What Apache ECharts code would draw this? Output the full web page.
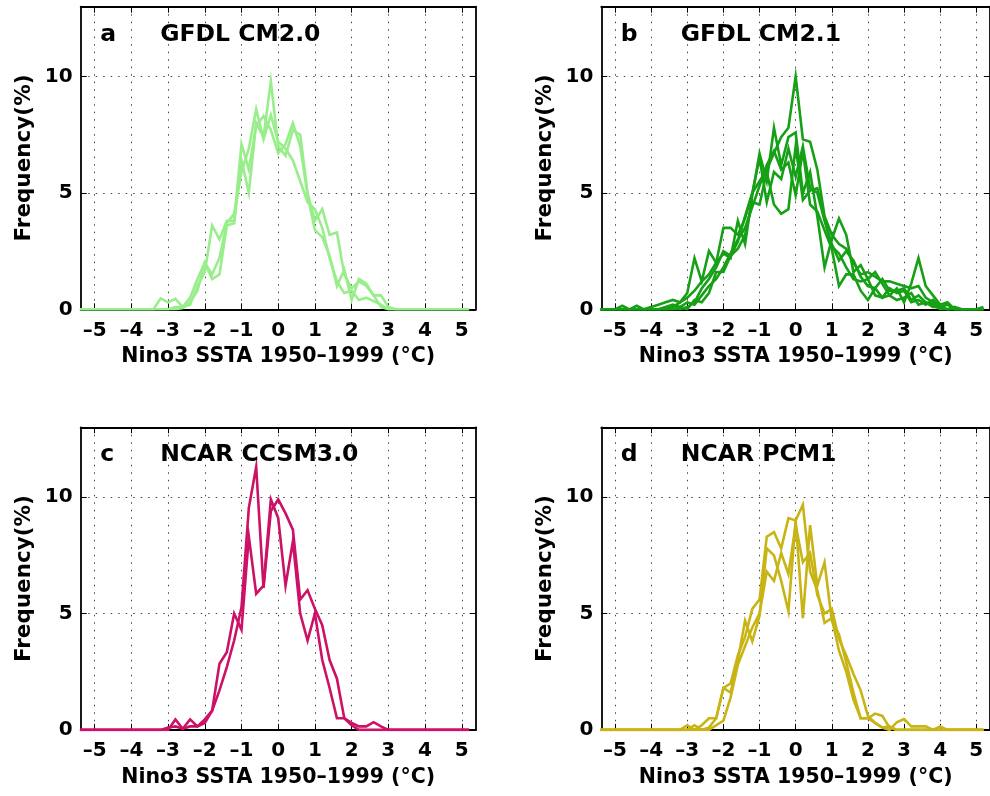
<!DOCTYPE html>
<html><head><meta charset="utf-8">
<script src="https://cdn.jsdelivr.net/npm/echarts@6/dist/echarts.min.js"></script>
<style>html,body{margin:0;padding:0;background:#fff}#c{width:990px;height:796px}</style>
</head><body><div id="c"></div>
<script>
// ---- data ----
const bins = [-5.4,-5.2,-5.0,-4.8,-4.6,-4.4,-4.2,-4.0,-3.8,-3.6,
  -3.4,-3.2,-3.0,-2.8,-2.6,-2.4,-2.2,-2.0,-1.8,-1.6,
  -1.4,-1.2,-1.0,-0.8,-0.6,-0.4,-0.2,0.0,0.2,0.4,
  0.6,0.8,1.0,1.2,1.4,1.6,1.8,2.0,2.2,2.4,
  2.6,2.8,3.0,3.2,3.4,3.6,3.8,4.0,4.2,4.4,
  4.6,4.8,5.0,5.2];
const xTicks = [-5,-4,-3,-2,-1,0,1,2,3,4,5];
const yTicks = [0,5,10];
const panelLetters = ['a','b','c','d'];
const panelTitles = ['GFDL CM2.0','GFDL CM2.1','NCAR CCSM3.0','NCAR PCM1'];
const xAxisName = 'Nino3 SSTA 1950\u20131999 (\u00B0C)';
const yAxisName = 'Frequency(%)';

// GFDL CM2.0
const cm20_r1 = [0,0,0,0,0,0,0,0,0,0,
  0,0,0,0.1,0.1,0.5,1.3,2.0,1.3,1.5,
  3.6,3.7,6.4,5.0,8.0,7.4,9.8,7.0,6.6,7.7,
  7.5,5.0,3.8,4.3,3.2,3.3,1.5,0.9,1.2,1.0,
  0.6,0.6,0.1,0,0,0,0,0,0,0,
  0,0,0,0];
const cm20_r2 = [0,0,0,0,0,0,0,0,0,0,
  0,0.47,0.3,0.45,0.1,0.2,1.0,1.6,3.6,3.0,
  3.8,3.8,7.1,6.0,7.9,8.3,7.7,6.7,7.1,8.0,
  7.0,4.9,3.4,3.1,2.3,1.0,1.7,0.4,1.3,1.1,
  0.6,0.1,0,0,0,0,0,0,0,0,
  0,0,0,0];
const cm20_r3 = [0,0,0,0,0,0,0,0,0,0,
  0,0,0,0,0.05,0.3,0.8,2.0,1.5,2.2,
  3.7,4.1,5.9,6.9,8.6,7.3,8.35,7.2,6.9,6.4,
  5.5,4.6,4.3,3.5,2.2,1.2,0.7,0.8,0.4,0.5,
  0.35,0.2,0,0,0,0,0,0,0,0,
  0,0,0,0];
// GFDL CM2.1
const cm21_r1 = [0,0,0,0,0,0,0,0,0,0,
  0.1,0.3,0.5,0.8,1.2,1.5,2.0,3.5,3.5,3.2,
  3.9,5.0,5.5,6.0,6.7,7.4,7.8,10.0,7.3,7.2,
  6.0,4.0,3.2,2.8,2.6,2.0,1.5,1.6,1.4,1.2,
  1.2,1.1,1.0,0.9,1.0,0.5,0.3,0.1,0,0,
  0,0,0,0];
const cm21_r2 = [0,0,0,0.15,0,0.15,0,0.1,0.2,0.3,
  0.4,0.3,0.7,2.2,1.2,2.5,2.0,2.4,2.2,3.8,
  2.8,4.9,6.7,5.5,7.8,6.2,7.4,7.6,5.0,5.9,
  4.0,1.8,3.0,3.9,3.2,1.6,1.9,1.3,1.6,1.1,
  0.6,0.9,0.3,1.1,2.2,1.0,0.6,0.2,0.3,0,
  0,0,0,0];
const cm21_r3 = [0,0,0,0,0,0,0,0,0,0,
  0,0,0.1,0.3,0.9,1.3,1.8,2.5,2.3,2.9,
  4.0,5.0,6.5,4.6,5.9,5.6,6.9,5.7,7.0,5.2,
  5.0,3.8,2.8,2.1,2.5,2.1,1.4,1.0,0.9,1.3,
  0.8,0.8,0.9,0.4,0.6,0.3,0.2,0,0,0,
  0,0,0,0];
const cm21_r4 = [0,0,0,0,0,0,0,0,0,0.1,
  0.2,0.1,0.3,0.2,0.6,1.0,1.3,1.8,2.4,3.0,
  3.5,4.4,5.3,6.2,6.8,6.0,6.3,4.9,6.8,4.5,
  4.2,3.4,2.6,1.0,1.5,1.5,0.8,0.4,0.9,0.5,
  0.9,0.7,0.8,0.3,0.4,0.2,0.4,0.1,0.2,0,
  0,0,0,0];
const cm21_r5 = [0,0,0,0,0,0,0,0,0,0,
  0,0.1,0,0.4,0.3,0.7,1.6,1.6,2.3,2.6,
  3.2,4.6,4.5,5.9,4.5,4.1,4.3,7.0,4.7,5.1,
  5.2,3.9,2.7,2.4,1.8,1.3,1.2,1.3,0.6,0.5,
  0.6,0.4,0.5,0.7,0.2,0.3,0.1,0.1,0,0.1,
  0,0,0,0.1];
// NCAR CCSM3.0
const ccsm3_r1 = [0,0,0,0,0,0,0,0,0,0,
  0,0,0,0.45,0.05,0.45,0.15,0.3,0.83,1.7,
  2.7,3.84,5.27,9.54,11.3,6.1,9.4,9.9,9.3,8.6,
  5.6,6.0,5.2,4.5,3.0,2.2,0.5,0.3,0.15,0.15,
  0.33,0.15,0,0,0,0,0,0,0,0,
  0,0,0,0];
const ccsm3_r2 = [0,0,0,0,0,0,0,0,0,0,
  0,0,0.1,0.15,0.05,0.15,0.15,0.45,0.83,2.84,
  3.34,5.0,4.3,8.3,5.85,6.2,9.9,9.1,6.2,8.1,
  5.0,3.84,5.0,3.0,1.8,0.5,0.5,0.2,0,0,
  0,0,0,0,0,0,0,0,0,0,
  0,0,0,0];
// NCAR PCM1
const pcm1_r1 = [0,0,0,0,0,0,0,0,0,0,
  0,0,0.2,0,0.2,0.5,0.5,1.8,2.0,3.2,
  4.0,5.2,5.6,8.3,8.5,7.8,9.1,9.0,9.67,6.8,
  6.0,4.6,4.8,3.4,2.5,1.3,0.5,0.5,0.7,0.6,
  0.1,0,0,0,0,0,0,0,0,0,
  0,0,0,0];
const pcm1_r2 = [0,0,0,0,0,0,0,0,0,0,
  0,0,0,0.2,0,0.1,0.5,1.8,1.6,3.0,
  4.7,3.8,4.9,7.8,7.5,6.4,5.1,9.0,4.8,8.8,
  6.2,7.2,4.7,4.1,2.9,1.6,0.5,0.5,0.3,0.1,
  0,0.33,0.47,0.15,0.15,0.15,0,0.15,0,0,
  0,0,0,0];
const pcm1_r3 = [0,0,0,0,0,0,0,0,0,0,
  0,0,0,0,0,0,0.2,0.4,1.4,2.8,
  3.6,4.4,5.0,6.8,6.4,7.6,6.7,8.8,7.2,7.6,
  5.8,5.0,5.2,3.9,3.2,2.4,1.7,0.6,0.3,0.1,
  0.15,0,0,0,0,0,0,0,0,0,
  0,0,0,0];

const panelRuns = [
  [cm20_r1, cm20_r2, cm20_r3],
  [cm21_r1, cm21_r2, cm21_r3, cm21_r4, cm21_r5],
  [ccsm3_r1, ccsm3_r2],
  [pcm1_r1, pcm1_r2, pcm1_r3]
];

// ---- styling / layout ----
const panelColors = ['#98ee8a', '#16a016', '#cc1166', '#c8b414'];
const FONT = 'DejaVu Sans';
const gridPos = [
  {left: 80.7, top: 6.7}, {left: 601.3, top: 6.7},
  {left: 80.7, top: 427.3}, {left: 601.3, top: 427.3}
];
const GW = 395, GH = 302.6;
const fmt = v => String(v).replace('-', '\u2013');

const option = {
  animation: false,
  backgroundColor: '#fff',
  grid: [], xAxis: [], yAxis: [], series: [], title: []
};

gridPos.forEach((g, p) => {
  option.grid.push({left: g.left, top: g.top, width: GW, height: GH, containLabel: false});
  const axisLine = {show: true, onZero: false, lineStyle: {color: '#000', width: 1.8}};
  const tick = {show: true, inside: true, length: 6, lineStyle: {color: '#000', width: 1}};
  const dotted = {show: true, lineStyle: {color: '#444', width: 1, type: [1.5, 6]}};
  // bottom x
  option.xAxis.push({
    type: 'value', gridIndex: p, min: -5.38, max: 5.38, position: 'bottom',
    axisLine, axisTick: Object.assign({}, tick, {customValues: xTicks}),
    axisLabel: {customValues: xTicks, formatter: fmt, fontSize: 20, fontWeight: 'bold', color: '#000', fontFamily: FONT, margin: 11},
    splitLine: dotted,
    name: xAxisName, nameLocation: 'middle', nameGap: 37,
    nameTextStyle: {fontSize: 20.5, fontWeight: 'bold', color: '#000', fontFamily: FONT}
  });
  // top x (box)
  option.xAxis.push({
    type: 'value', gridIndex: p, min: -5.38, max: 5.38, position: 'top',
    axisLine, axisTick: Object.assign({}, tick, {customValues: xTicks}),
    axisLabel: {show: false}, splitLine: {show: false}
  });
  // left y
  option.yAxis.push({
    type: 'value', gridIndex: p, min: 0, max: 13, position: 'left',
    axisLine, axisTick: Object.assign({}, tick, {customValues: yTicks}),
    axisLabel: {customValues: yTicks, fontSize: 20, fontWeight: 'bold', color: '#000', fontFamily: FONT, margin: 8},
    splitLine: dotted,
    name: yAxisName, nameLocation: 'middle', nameRotate: 90, nameGap: 45,
    nameTextStyle: {fontSize: 21.5, fontWeight: 'bold', color: '#000', fontFamily: FONT}
  });
  // right y (box)
  option.yAxis.push({
    type: 'value', gridIndex: p, min: 0, max: 13, position: 'right',
    axisLine, axisTick: Object.assign({}, tick, {customValues: yTicks}),
    axisLabel: {show: false}, splitLine: {show: false}
  });
  panelRuns[p].forEach(run => {
    option.series.push({
      type: 'line', xAxisIndex: 2 * p, yAxisIndex: 2 * p,
      data: bins.map((x, i) => [x, run[i]]),
      symbol: 'none', clip: true,
      lineStyle: {color: panelColors[p], width: 2.6, join: 'miter'}, itemStyle: {color: panelColors[p]}
    });
  });
  const tStyle = {fontSize: 23.5, fontWeight: 'bold', color: '#000', fontFamily: FONT};
  option.title.push({text: panelLetters[p], left: g.left + 19.5, top: g.top + 16, padding: 0, textStyle: tStyle});
  option.title.push({text: panelTitles[p], left: g.left + 79.5, top: g.top + 16, padding: 0, textStyle: tStyle});
});

const chart = echarts.init(document.getElementById('c'), null, {renderer: 'canvas'});
chart.setOption(option);
</script></body></html>
